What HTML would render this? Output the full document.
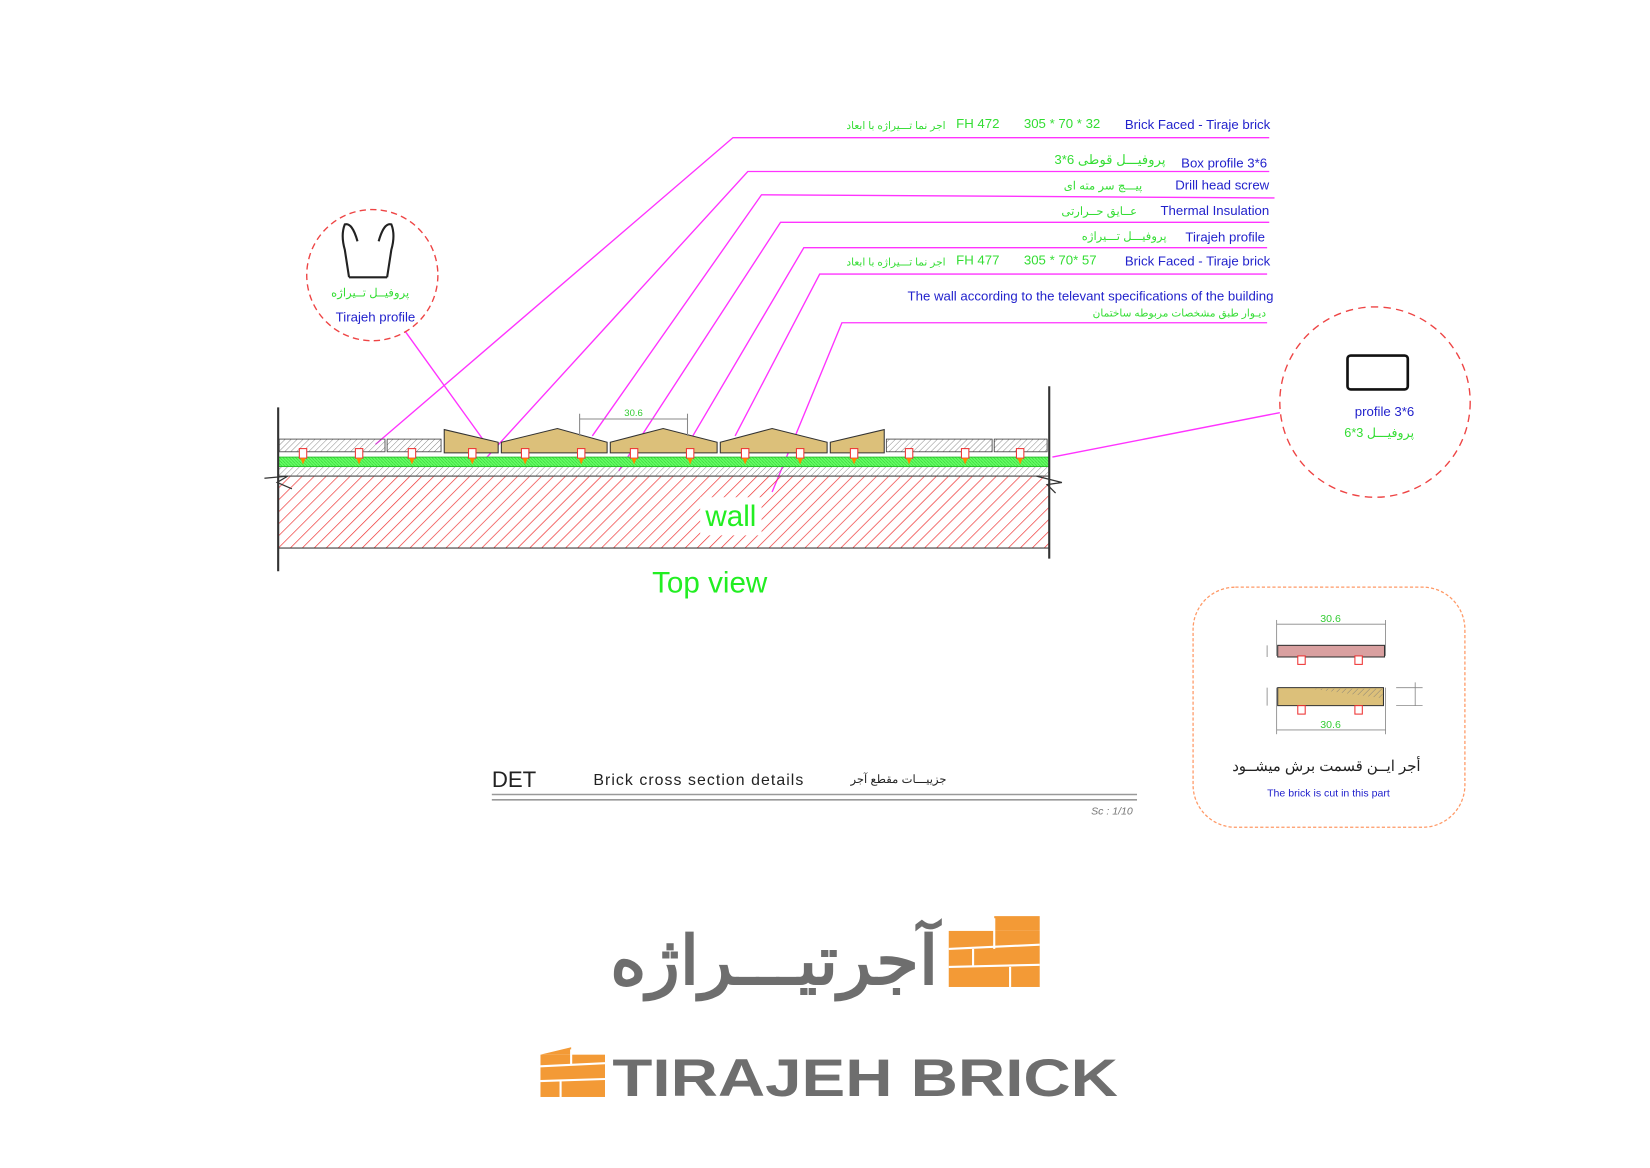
<!DOCTYPE html>
<html><head><meta charset="utf-8"><style>
html,body{margin:0;padding:0;background:#fff;}
svg{display:block;}
text{font-family:"Liberation Sans","Noto Sans CJK SC",sans-serif;}
</style></head><body>
<svg width="1650" height="1168" viewBox="0 0 1560 1104" xmlns="http://www.w3.org/2000/svg">
<defs>
<pattern id="red" width="8" height="8" patternUnits="userSpaceOnUse" patternTransform="rotate(45)"><line x1="0" y1="0" x2="0" y2="8" stroke="#e33" stroke-width="1.3"/></pattern>
<pattern id="gh" width="4" height="4" patternUnits="userSpaceOnUse" patternTransform="rotate(45)"><line x1="0" y1="0" x2="0" y2="4" stroke="#777" stroke-width="0.8"/></pattern>
<pattern id="gr" width="3" height="3" patternUnits="userSpaceOnUse"><rect width="3" height="3" fill="#6f6"/><line x1="0" y1="0" x2="3" y2="3" stroke="#3c3" stroke-width="0.6"/></pattern>
</defs>
<rect width="1560" height="1104" fill="#fff"/>

<!-- leader lines -->
<g stroke="#f3f" stroke-width="1.3" fill="none">
<polyline points="355,420 693,130 1200,130"/>
<polyline points="455,438 707,162 1200,162"/>
<polyline points="560,412 720,184 1205,187"/>
<polyline points="585,445 738,210 1200,210"/>
<polyline points="655,412 760,234 1198,234"/>
<polyline points="695,412 775,259 1198,259"/>
<polyline points="730,465 796,305 1198,305"/>
<line x1="383" y1="313" x2="460" y2="420"/>
<line x1="995" y1="432" x2="1210" y2="390"/>
</g>

<!-- labels -->
<g font-size="12.5">
<text x="1201" y="122" text-anchor="end" fill="#22c">Brick Faced - Tiraje brick</text>
<text x="968" y="121" fill="#3d3">305 * 70 * 32</text>
<text x="904" y="121" fill="#3d3">FH 472</text>
<text x="894" y="122" text-anchor="end" fill="#3d3" font-size="10">اجر نما تـــیراژه با ابعاد</text>
<text x="1198" y="158" text-anchor="end" fill="#22c">Box profile 3*6</text>
<text x="1102" y="155" text-anchor="end" fill="#3d3">پروفیـــل قوطی  6*3</text>
<text x="1200" y="179" text-anchor="end" fill="#22c">Drill head screw</text>
<text x="1080" y="179" text-anchor="end" fill="#3d3" font-size="11">پیـــچ سر مته ای</text>
<text x="1200" y="203" text-anchor="end" fill="#22c">Thermal Insulation</text>
<text x="1075" y="203" text-anchor="end" fill="#3d3" font-size="11">عــایق حــرارتی</text>
<text x="1196" y="228" text-anchor="end" fill="#22c">Tirajeh profile</text>
<text x="1103" y="227" text-anchor="end" fill="#3d3" font-size="11">پروفیـــل تـــیراژه</text>
<text x="1201" y="251" text-anchor="end" fill="#22c">Brick Faced - Tiraje brick</text>
<text x="968" y="250" fill="#3d3">305 * 70* 57</text>
<text x="904" y="250" fill="#3d3">FH 477</text>
<text x="894" y="251" text-anchor="end" fill="#3d3" font-size="10">اجر نما تـــیراژه با ابعاد</text>
<text x="1204" y="284" text-anchor="end" fill="#22c">The wall according to the televant specifications of the building</text>
<text x="1197" y="299" text-anchor="end" fill="#3d3" font-size="10">دیـوار طبق مشخصات مربوطه ساختمان</text>
</g>

<!-- left circle -->
<circle cx="352" cy="260" r="62" fill="none" stroke="#e44" stroke-width="1.3" stroke-dasharray="6,4"/>
<path d="M330,262 L326,236 Q322,222 326,212 Q333,210 338,228 M366,262 L370,236 Q374,222 370,212 Q363,210 358,228 M330,262 L366,262" fill="none" stroke="#222" stroke-width="2"/>
<text x="350" y="280" text-anchor="middle" fill="#3d3" font-size="11">پروفیــل تــیراژه</text>
<text x="355" y="304" text-anchor="middle" fill="#22c" font-size="12.5">Tirajeh profile</text>

<!-- right circle -->
<circle cx="1300" cy="380" r="90" fill="none" stroke="#e44" stroke-width="1.3" stroke-dasharray="7,5"/>
<rect x="1274" y="336" width="57" height="32" rx="3" fill="none" stroke="#111" stroke-width="2.5"/>
<text x="1309" y="393" text-anchor="middle" fill="#22c" font-size="12.5">profile 3*6</text>
<text x="1304" y="413" text-anchor="middle" fill="#3d3" font-size="12">پروفیـــل 3*6</text>

<!-- wall section -->
<rect x="263" y="450" width="729" height="68" fill="url(#red)" stroke="#333" stroke-width="1"/>
<rect x="263" y="441" width="729" height="9" fill="url(#gh)" stroke="#555" stroke-width="0.8"/>
<rect x="263" y="432" width="729" height="9" fill="url(#gr)" stroke="#2b2" stroke-width="0.8"/>
<rect x="662" y="470" width="58" height="36" fill="#fff"/>
<text x="691" y="497" text-anchor="middle" fill="#2e2" font-size="28">wall</text>
<line x1="263" y1="385" x2="263" y2="540" stroke="#333" stroke-width="2"/>
<line x1="992" y1="365" x2="992" y2="528" stroke="#333" stroke-width="2"/>
<path d="M250,452 L272,450 L262,456 L276,462" fill="none" stroke="#333" stroke-width="1.2"/>
<path d="M980,450 L1004,456 L990,458 L998,466" fill="none" stroke="#333" stroke-width="1.2"/>

<!-- gray bricks -->
<g fill="url(#gh)" stroke="#444" stroke-width="0.8">
<rect x="264" y="415" width="100" height="12"/>
<rect x="366" y="415" width="51" height="12"/>
<rect x="838" y="415" width="100" height="12"/>
<rect x="940" y="415" width="50" height="12"/>
</g>
<!-- tan bricks -->
<g fill="#dcc07a" stroke="#333" stroke-width="1">
<polygon points="420,406 471,418 471,428 420,428"/>
<polygon points="474,418 527,405 574,418 574,428 474,428"/>
<polygon points="577,418 627,405 678,418 678,428 577,428"/>
<polygon points="681,418 730,405 782,418 782,428 681,428"/>
<polygon points="785,418 836,406 836,428 785,428"/>
</g>
<!-- screws -->
<g fill="#fff" stroke="#e33" stroke-width="1">
<rect x="283" y="424" width="7" height="9"/><rect x="336" y="424" width="7" height="9"/><rect x="386" y="424" width="7" height="9"/><rect x="443" y="424" width="7" height="9"/><rect x="493" y="424" width="7" height="9"/><rect x="546" y="424" width="7" height="9"/><rect x="596" y="424" width="7" height="9"/><rect x="649" y="424" width="7" height="9"/><rect x="701" y="424" width="7" height="9"/><rect x="753" y="424" width="7" height="9"/><rect x="804" y="424" width="7" height="9"/><rect x="856" y="424" width="7" height="9"/><rect x="909" y="424" width="7" height="9"/><rect x="961" y="424" width="7" height="9"/>
</g>
<g fill="#f80">
<polygon points="284,433 289,433 286.5,439"/><polygon points="337,433 342,433 339.5,439"/><polygon points="387,433 392,433 389.5,439"/><polygon points="444,433 449,433 446.5,439"/><polygon points="494,433 499,433 496.5,439"/><polygon points="547,433 552,433 549.5,439"/><polygon points="597,433 602,433 599.5,439"/><polygon points="650,433 655,433 652.5,439"/><polygon points="702,433 707,433 704.5,439"/><polygon points="754,433 759,433 756.5,439"/><polygon points="805,433 810,433 807.5,439"/><polygon points="857,433 862,433 859.5,439"/><polygon points="910,433 915,433 912.5,439"/><polygon points="962,433 967,433 964.5,439"/>
</g>
<g stroke="#888" stroke-width="1"><line x1="548" y1="396" x2="650" y2="396"/><line x1="548" y1="391" x2="548" y2="412"/><line x1="650" y1="391" x2="650" y2="412"/></g>
<text x="599" y="393" text-anchor="middle" fill="#3c3" font-size="9">30.6</text>
<text x="671" y="560" text-anchor="middle" fill="#2e2" font-size="28">Top view</text>

<!-- detail box -->
<rect x="1128" y="555" width="257" height="227" rx="40" fill="none" stroke="#f96" stroke-width="1.2" stroke-dasharray="3,2"/>
<g stroke="#888" stroke-width="0.8"><line x1="1207" y1="590" x2="1310" y2="590"/><line x1="1207" y1="586" x2="1207" y2="620"/><line x1="1310" y1="586" x2="1310" y2="620"/><line x1="1207" y1="690" x2="1310" y2="690"/><line x1="1207" y1="650" x2="1207" y2="694"/><line x1="1310" y1="650" x2="1310" y2="694"/><line x1="1198" y1="610" x2="1198" y2="621"/><line x1="1198" y1="650" x2="1198" y2="667"/><line x1="1320" y1="650" x2="1345" y2="650"/><line x1="1320" y1="667" x2="1345" y2="667"/><line x1="1338" y1="645" x2="1338" y2="667"/></g>
<text x="1258" y="588" text-anchor="middle" fill="#3c3" font-size="10">30.6</text>
<text x="1258" y="688" text-anchor="middle" fill="#3c3" font-size="10">30.6</text>
<rect x="1208" y="610" width="101" height="11" fill="#d9a0a0" stroke="#333"/>
<polygon points="1208,650 1308,650 1308,667 1208,667" fill="#dcc07a" stroke="#333"/>
<polygon points="1240,651 1307,651 1307,660" fill="url(#gh)"/>
<g fill="#fff" stroke="#e33"><rect x="1227" y="620" width="7" height="8"/><rect x="1281" y="620" width="7" height="8"/><rect x="1227" y="667" width="7" height="8"/><rect x="1281" y="667" width="7" height="8"/></g>
<text x="1254" y="729" text-anchor="middle" fill="#222" font-size="14">أجر ایــن قسمت برش  میشــود</text>
<text x="1256" y="753" text-anchor="middle" fill="#22c" font-size="10">The brick is cut in this part</text>

<!-- title -->
<text x="465" y="744" fill="#222" font-size="21" font-family="Liberation Serif,serif">DET</text>
<text x="561" y="742" fill="#222" font-size="15" font-family="Liberation Serif,serif" letter-spacing="1">Brick  cross  section  details</text>
<text x="895" y="740" text-anchor="end" fill="#222" font-size="11">جزییـــات مقطع آجر</text>
<line x1="465" y1="751" x2="1075" y2="751" stroke="#999" stroke-width="1.5"/>
<line x1="465" y1="756" x2="1075" y2="756" stroke="#999" stroke-width="1.5"/>
<text x="1071" y="770" text-anchor="end" fill="#777" font-size="10" font-style="italic" font-family="Liberation Serif,serif">Sc  :  1/10</text>

<!-- logo -->
<g fill="#f39a36"><rect x="897" y="880" width="86" height="53"/><polygon points="940,866 983,866 983,880 940,880"/></g>
<g stroke="#fff" stroke-width="2"><line x1="897" y1="897" x2="983" y2="893"/><line x1="897" y1="914" x2="983" y2="912"/><line x1="940" y1="868" x2="940" y2="897"/><line x1="920" y1="897" x2="920" y2="914"/><line x1="955" y1="914" x2="955" y2="933"/></g>
<text x="732" y="930" text-anchor="middle" fill="#6e6e6e" font-size="64" font-weight="bold" textLength="310" lengthAdjust="spacingAndGlyphs">آجرتیـــراژه</text>
<g fill="#f39a36"><rect x="511" y="997" width="61" height="40"/><polygon points="511,997 540,990 540,997"/></g>
<g stroke="#fff" stroke-width="2"><line x1="511" y1="1008" x2="572" y2="1005"/><line x1="511" y1="1022" x2="572" y2="1020"/><line x1="540" y1="992" x2="540" y2="1006"/><line x1="530" y1="1022" x2="530" y2="1037"/></g>
<text x="818" y="1036" text-anchor="middle" fill="#6e6e6e" font-size="50" font-weight="bold" textLength="478" lengthAdjust="spacingAndGlyphs">TIRAJEH BRICK</text>
</svg>
</body></html>
